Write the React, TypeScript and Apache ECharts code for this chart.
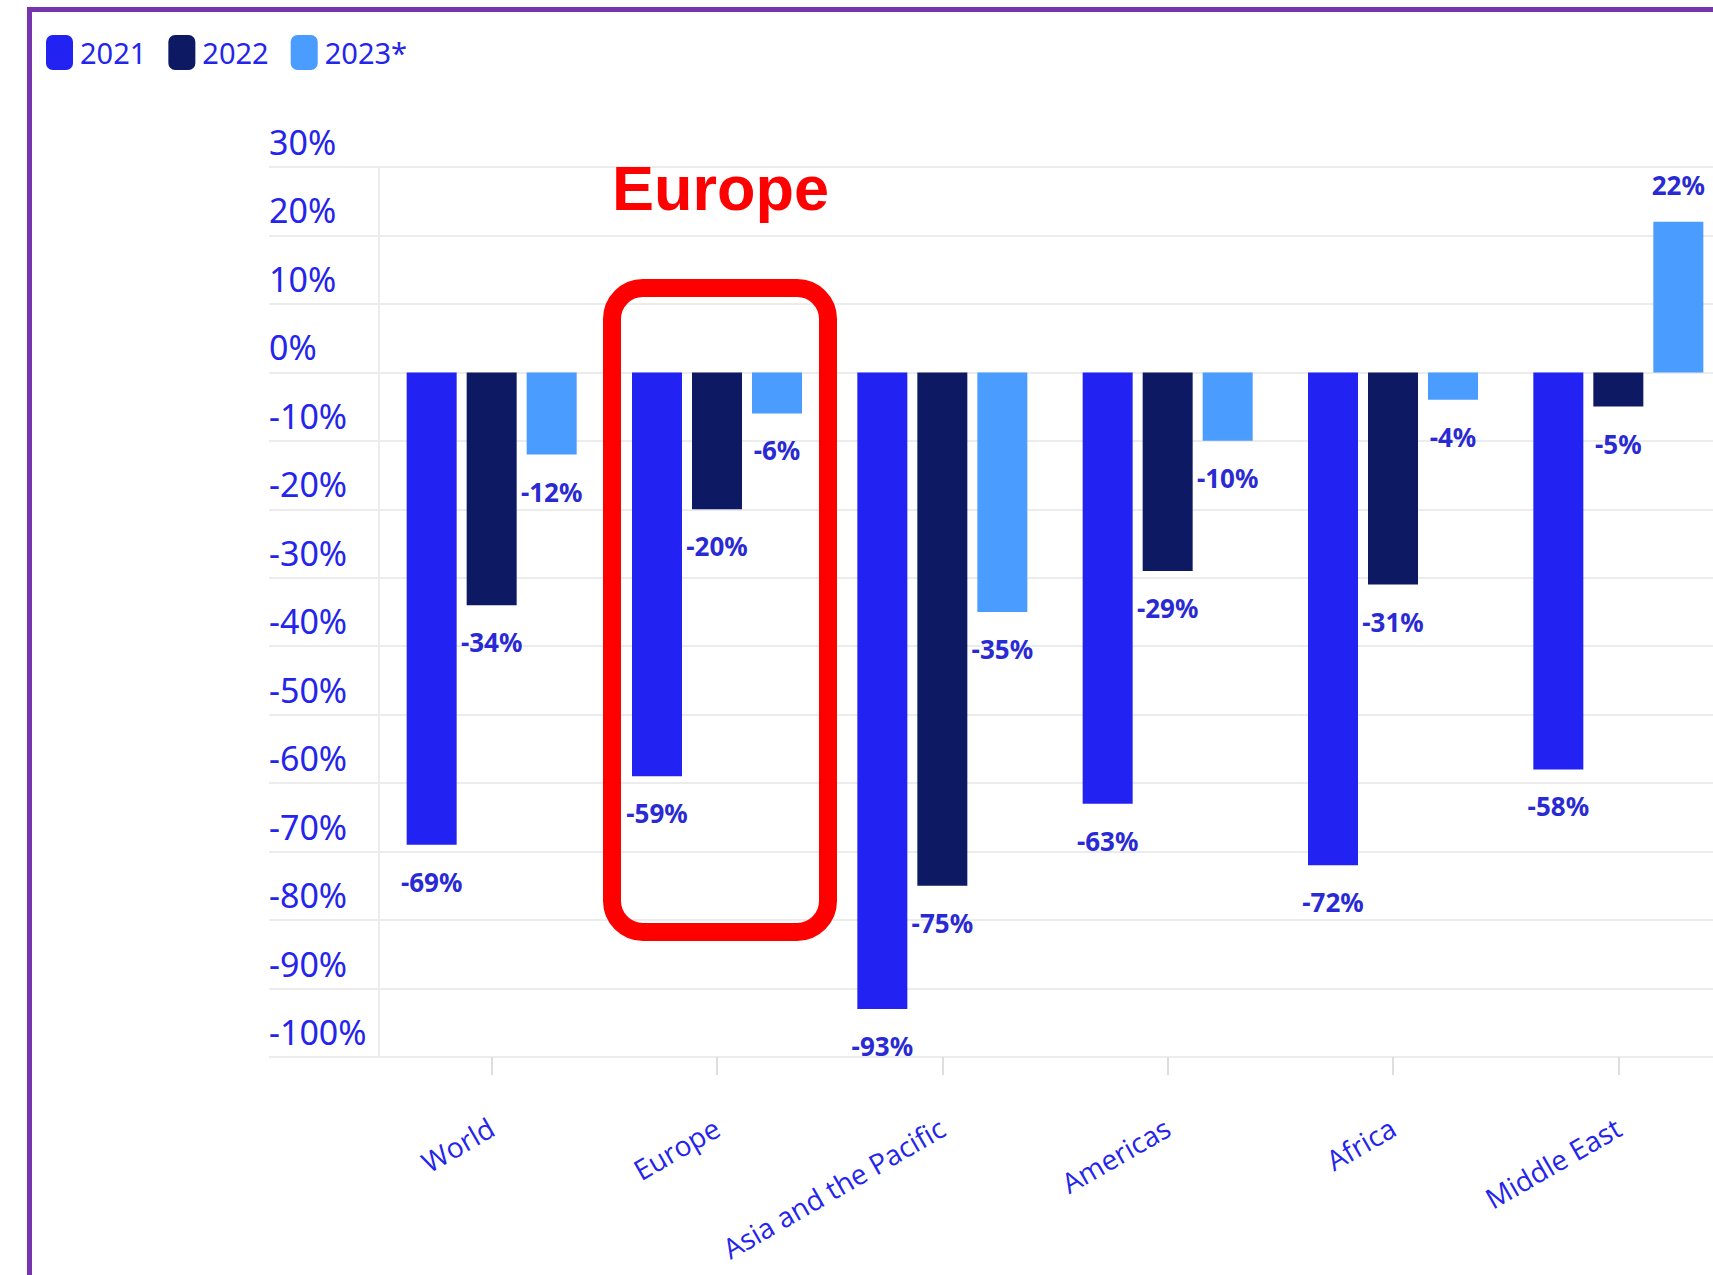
import React, { useEffect, useRef } from "react";
import * as echarts from "echarts";

const CATEGORIES = ["World", "Europe", "Asia and the Pacific", "Americas", "Africa", "Middle East"];
const SERIES_NAMES = ["2021", "2022", "2023*"];
const V2021 = [-69, -59, -93, -63, -72, -58];
const V2022 = [-34, -20, -75, -29, -31, -5];
const V2023 = [-12, -6, -35, -10, -4, 22];
const COLORS = ["#2222f3", "#0d1a63", "#4a9cff"];
const Y_MIN = -100;
const Y_MAX = 30;
const Y_STEP = 10;
const ANNOTATION = "Europe";

const BLUE_TEXT = "#2424ec";
const LABEL_TEXT = "#2a2ad4";
const GRID_LINE = "#ececec";

export default function App() {
  const ref = useRef<HTMLDivElement>(null);

  useEffect(() => {
    if (!ref.current) return;
    const chart = echarts.init(ref.current, null, { renderer: "svg" });
    const values = [V2021, V2022, V2023];

    const gridTop = 167;
    const gridHeight = 890;

    const series = SERIES_NAMES.map((name, i) => ({
      name,
      type: "bar",
      xAxisIndex: 0,
      yAxisIndex: 0,
      barWidth: 50,
      barGap: "20%",
      itemStyle: { color: COLORS[i] },
      label: {
        show: true,
        distance: 24,
        color: LABEL_TEXT,
        fontFamily: "Noto Sans",
        fontWeight: "bold",
        fontSize: 26,
        formatter: (p: any) => `${p.value}%`,
      },
      data: values[i].map((v) => ({
        value: v,
        label: { position: v < 0 ? "bottom" : "top" },
      })),
    }));

    const option: any = {
      animation: false,
      backgroundColor: "#ffffff",
      legend: {
        left: 46,
        top: 35,
        padding: 0,
        icon: "roundRect",
        itemWidth: 27,
        itemHeight: 35,
        itemGap: 22,
        textStyle: {
          color: BLUE_TEXT,
          fontSize: 29,
          fontFamily: "Noto Sans",
          padding: [0, 0, 0, 2],
        },
        data: SERIES_NAMES,
      },
      grid: [
        { left: 379, top: gridTop, width: 1352, height: gridHeight, outerBoundsMode: "none", containLabel: false },
        { left: 269, top: gridTop, width: 1500, height: gridHeight, outerBoundsMode: "none", containLabel: false },
      ],
      xAxis: [
        {
          type: "category",
          gridIndex: 0,
          position: "bottom",
          data: CATEGORIES,
          axisLine: { show: true, onZero: false, lineStyle: { color: GRID_LINE, width: 2 } },
          axisTick: {
            show: true,
            inside: false,
            interval: 0,
            alignWithLabel: true,
            length: 18,
            lineStyle: { color: "#dedede", width: 2 },
          },
          splitLine: { show: false },
          axisLabel: {
            show: true,
            interval: 0,
            rotate: 30,
            margin: 68,
            color: BLUE_TEXT,
            fontSize: 28,
            fontFamily: "Open Sans",
          },
        },
        { type: "value", gridIndex: 1, show: false, min: 0, max: 1 },
      ],
      yAxis: [
        {
          type: "value",
          gridIndex: 0,
          min: Y_MIN,
          max: Y_MAX,
          interval: Y_STEP,
          axisLine: { show: true, lineStyle: { color: GRID_LINE, width: 2 } },
          axisTick: { show: false },
          axisLabel: { show: false },
          splitLine: { show: false },
        },
        {
          type: "value",
          gridIndex: 1,
          min: Y_MIN,
          max: Y_MAX,
          interval: Y_STEP,
          axisLine: { show: false },
          axisTick: { show: false },
          splitLine: { show: true, lineStyle: { color: GRID_LINE, width: 2 } },
          axisLabel: {
            show: true,
            inside: true,
            margin: 0,
            align: "left",
            verticalAlign: "bottom",
            padding: [0, 0, 8, 0],
            color: BLUE_TEXT,
            fontSize: 34,
            fontFamily: "Noto Sans",
            formatter: (v: number) => `${v}%`,
          },
        },
      ],
      series,
      graphic: [
        {
          type: "rect",
          z: 100,
          shape: { x: 29.5, y: 9.5, width: 2000, height: 2000 },
          style: { fill: "none", stroke: "#7634ad", lineWidth: 5 },
        },
        {
          type: "rect",
          z: 100,
          shape: { x: 612, y: 288, width: 216, height: 644, r: 31 },
          style: { fill: "none", stroke: "#ff0000", lineWidth: 18 },
        },
        {
          type: "text",
          z: 100,
          style: {
            text: ANNOTATION,
            x: 612,
            y: 188,
            verticalAlign: "middle",
            fill: "#ff0000",
            fontSize: 63,
            fontWeight: "bold",
            fontFamily: "Liberation Sans",
          },
        },
      ],
    };

    chart.setOption(option);
    return () => chart.dispose();
  }, []);

  return (
    <div
      ref={ref}
      style={{ position: "fixed", left: 0, top: 0, width: 1713, height: 1275, background: "#fff" }}
    />
  );
}
